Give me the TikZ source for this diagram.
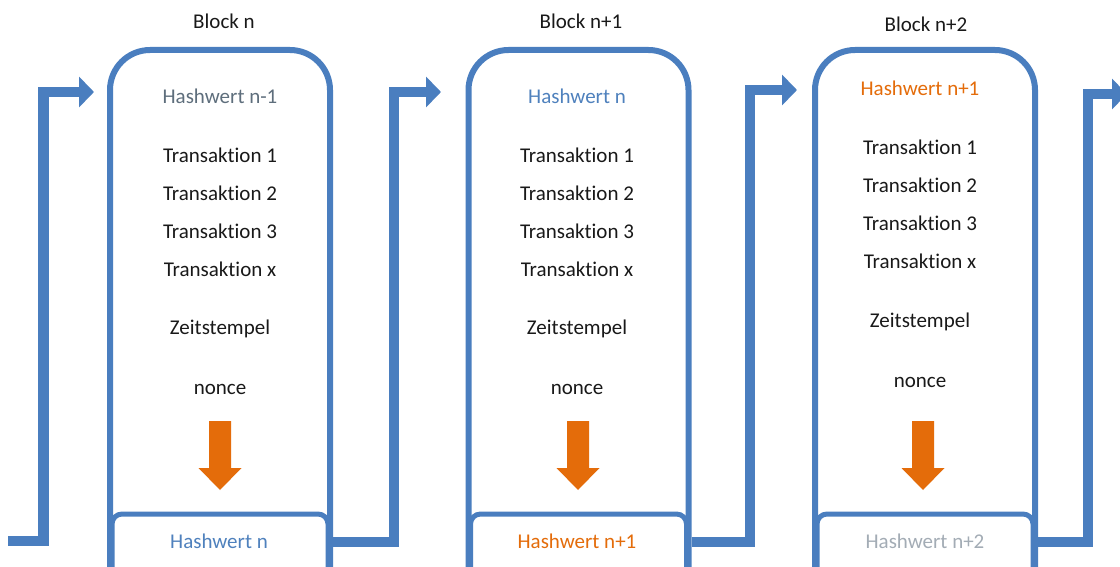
\documentclass[tikz,border=0pt]{standalone}
\usepackage{fontspec}
\setmainfont{Carlito}[Ligatures=NoCommon]
\usetikzlibrary{arrows.meta}
\definecolor{ChainBlue} {HTML}{4A7EBF}
\definecolor{HashOrange}{HTML}{E46C0A}
\definecolor{HashSlate} {HTML}{5E6E7C}
\definecolor{HashBlue}  {HTML}{4F81BD}
\definecolor{HashGray}  {HTML}{A3ACB5}
\tikzset{
  blockbox/.style={
    draw=ChainBlue, line width=6pt, rounded corners=40pt,
    minimum width=220pt, minimum height=570pt, fill=white,
  },
  hashbox/.style={
    draw=ChainBlue, line width=5pt, rounded corners=10pt,
    minimum width=216pt, minimum height=100pt,
  },
  entry/.style={
    font=\fontsize{21}{25}\selectfont, text=black!90,
    text height=13.5pt, text depth=0pt, inner sep=0pt,
  },
  chain/.style={
    draw=ChainBlue, line width=10.5pt,
    -{Triangle[length=15pt,width=30pt]},
  },
  hasharrow/.pic={
    \fill[HashOrange] (-11,0) -- (11,0) -- (11,47) -- (21.5,47)
      -- (0,69) -- (-21.5,47) -- (-11,47) -- cycle;
  },
}

\begin{document}
\begin{tikzpicture}[x=1pt, y=-1pt]

\clip (0,0) rectangle (1120,567);

% ── Blocks ────────────────────────────────────────────────────────────────
% pixel grid: blocks centred at x=220, 578.5, 925; bottoms run off the page
\node[blockbox] (B1) at (220,   335) {};
\node[blockbox] (B2) at (578.5, 335) {};
\node[blockbox] (B3) at (925,   335) {};
\node[hashbox]  (H1) at (220,   564) {};
\node[hashbox]  (H2) at (578.5, 564) {};
\node[hashbox]  (H3) at (925,   564) {};

% ── Block n ───────────────────────────────────────────────────────────────
\node[entry] (T1)  at (224, 22)  {Block n};
\node[entry, text=HashSlate] (P1) at (220, 97) {Hashwert n-1};
\node[entry] (T1a) at (220, 156) {Transaktion 1};
\node[entry] (T1b) at (220, 194) {Transaktion 2};
\node[entry] (T1c) at (220, 232) {Transaktion 3};
\node[entry] (T1x) at (220, 270) {Transaktion x};
\node[entry] (Z1)  at (220, 328) {Zeitstempel};
\node[entry] (N1)  at (220, 388) {nonce};
\pic at (220, 421) {hasharrow};
\node[entry, text=HashBlue] (O1) at (219, 542) {Hashwert n};

% ── Block n+1 ─────────────────────────────────────────────────────────────
\node[entry] (T2)  at (581, 22)  {Block n+1};
\node[entry, text=HashBlue] (P2) at (577, 97) {Hashwert n};
\node[entry] (T2a) at (577, 156) {Transaktion 1};
\node[entry] (T2b) at (577, 194) {Transaktion 2};
\node[entry] (T2c) at (577, 232) {Transaktion 3};
\node[entry] (T2x) at (577, 270) {Transaktion x};
\node[entry] (Z2)  at (577, 328) {Zeitstempel};
\node[entry] (N2)  at (577, 388) {nonce};
\pic at (578, 421) {hasharrow};
\node[entry, text=HashOrange] (O2) at (577, 542) {Hashwert n+1};

% ── Block n+2 ─────────────────────────────────────────────────────────────
\node[entry] (T3)  at (926, 25)  {Block n+2};
\node[entry, text=HashOrange] (P3) at (920, 89) {Hashwert n+1};
\node[entry] (T3a) at (920, 148) {Transaktion 1};
\node[entry] (T3b) at (920, 186) {Transaktion 2};
\node[entry] (T3c) at (920, 224) {Transaktion 3};
\node[entry] (T3x) at (920, 262) {Transaktion x};
\node[entry] (Z3)  at (920, 321) {Zeitstempel};
\node[entry] (N3)  at (920, 381) {nonce};
\pic at (923, 421) {hasharrow};
\node[entry, text=HashGray] (O3) at (925, 542) {Hashwert n+2};

% ── Chain links ───────────────────────────────────────────────────────────
\coordinate (S0) at (8, 541);
\coordinate (A0) at (94, 92);
\coordinate (A1) at (441, 92);
\coordinate (A2) at (797, 90);
\coordinate (A3) at (1127, 94);

\draw[chain] (S0) -- ++(35.5,0) |- (A0);
\draw[chain] (B1.east |- O1) -- ++(61,0) |- (A1);
\draw[chain] (B2.east |- O2) -- ++(58.5,0) |- (A2);
\draw[chain] (B3.east |- O3) -- ++(50,0) |- (A3);

\end{tikzpicture}
\end{document}
